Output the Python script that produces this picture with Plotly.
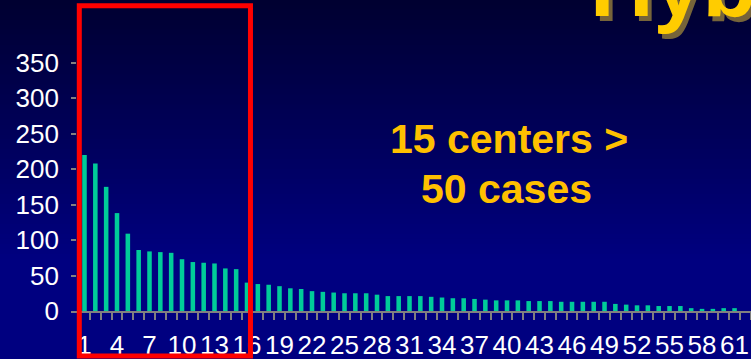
import plotly.graph_objects as go

# Cases per center, centers ranked by volume
centers = list(range(1, 62))
cases = [220, 208, 175, 138, 109, 86, 84, 83, 82, 73, 69, 68, 67, 60, 59,
         40, 38, 37, 35, 32, 31, 28, 27, 26, 25, 25, 25, 23, 21,
         21, 21, 21, 20, 19, 18, 18, 17, 16, 15, 15, 15, 14, 14, 14,
         13, 13, 13, 13, 13,
         10, 9, 8, 8, 7, 7, 7, 4, 3, 3, 4, 4]

x_tick_vals = list(range(1, 62, 3))
x_tick_text = [str(v) for v in x_tick_vals]
y_tick_vals = [0, 50, 100, 150, 200, 250, 300, 350]

W, H = 751, 359
ML, MB = 71, 48
PLOT_H = H - MB


def px_x(px):
    return (px - ML) / (W - ML)


def px_y(py):
    return (PLOT_H - py) / PLOT_H


fig = go.Figure()
fig.add_trace(go.Bar(
    x=centers, y=cases, width=0.42,
    marker=dict(color="#00CC99", line=dict(width=0)),
    hoverinfo="x+y",
))

shapes = []
# vertical navy gradient behind everything
n_bands = 72
for i in range(n_bands):
    top = H * i / n_bands
    bot = H * (i + 1) / n_bands
    t = min(1.0, ((top + bot) / 2) / 260.0)
    b = int(round(48 + (128 - 48) * t))
    shapes.append(dict(type="rect", xref="paper", yref="paper",
                       x0=-0.2, x1=1.2, y0=px_y(bot + 0.5), y1=px_y(top - 0.5),
                       fillcolor=f"rgb(0,0,{b})", line=dict(width=0), layer="below"))

# highlight box around the 15 largest centers
shapes.append(dict(type="rect", xref="x", yref="paper",
                   x0=0.52, x1=16.32, y0=px_y(356), y1=px_y(5.8),
                   line=dict(color="#FF0000", width=5), fillcolor="rgba(0,0,0,0)",
                   layer="above"))

gold = "#FFC000"
title_font = dict(family="Liberation Sans, Arial, sans-serif", size=88, color="#FFCC00")
annotations = [
    dict(text="<b>Hybrid</b>", xref="paper", yref="paper", x=px_x(592), y=px_y(42),
         xanchor="left", yanchor="bottom", showarrow=False,
         font=dict(family=title_font["family"], size=88, color="#76643a")),
    dict(text="<b>Hybrid</b>", xref="paper", yref="paper", x=px_x(588), y=px_y(37),
         xanchor="left", yanchor="bottom", showarrow=False, font=title_font),
    dict(text="<b>15 centers ></b>", xref="paper", yref="paper", x=px_x(508.5), y=px_y(139),
         xanchor="center", yanchor="middle", showarrow=False,
         font=dict(family="Liberation Sans, Arial, sans-serif", size=41, color=gold)),
    dict(text="<b>50 cases</b>", xref="paper", yref="paper", x=px_x(506.5), y=px_y(189),
         xanchor="center", yanchor="middle", showarrow=False,
         font=dict(family="Liberation Sans, Arial, sans-serif", size=41, color=gold)),
]

axis_font = dict(family="Liberation Sans, Arial, sans-serif", size=26, color="#FFFFFF")

fig.update_layout(
    width=W, height=H,
    margin=dict(l=ML, r=0, t=0, b=MB, pad=0),
    paper_bgcolor="#000080",
    plot_bgcolor="rgba(0,0,0,0)",
    showlegend=False,
    bargap=0.58,
    shapes=shapes,
    annotations=annotations,
    xaxis=dict(
        range=[-0.246, 62.52], showgrid=False, zeroline=False,
        showline=True, linecolor="#808080", linewidth=2,
        tickmode="array", tickvals=x_tick_vals, ticktext=x_tick_text,
        ticks="", tickangle=0, tickfont=axis_font, ticklabelstandoff=10,
        minor=dict(tickmode="linear", tick0=0.5, dtick=1, ticks="outside",
                   ticklen=7, tickwidth=2, tickcolor="#808080", showgrid=False),
    ),
    yaxis=dict(
        range=[0, PLOT_H / 0.70943], showgrid=False, zeroline=False, showline=False,
        tickmode="array", tickvals=y_tick_vals,
        ticks="inside", ticklen=5, tickwidth=2, tickcolor="#808080",
        tickfont=axis_font, ticklabelstandoff=11,
    ),
)

fig.write_html("out.html")
